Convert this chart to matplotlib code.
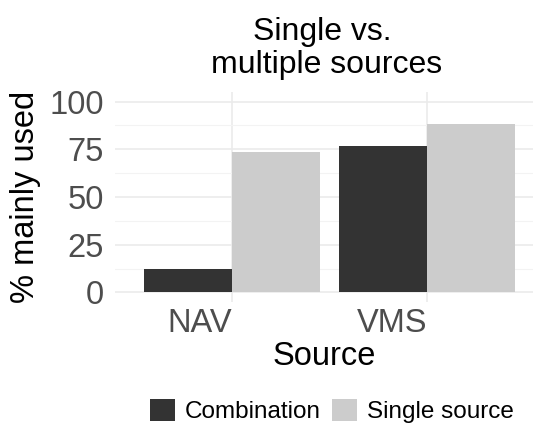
import matplotlib
matplotlib.use("Agg")
import matplotlib.pyplot as plt
import numpy as np
from matplotlib.patches import Patch

plt.rcParams['font.family'] = ['Liberation Sans', 'DejaVu Sans']

categories = ["NAV", "VMS"]
series_names = ["Combination", "Single source"]
combination = [12.3, 76.7]
single_source = [73.6, 88.1]
colors = ["#333333", "#cccccc"]
yticks = [0, 25, 50, 75, 100]

fig = plt.figure(figsize=(5.34, 4.25), dpi=100)
ax = fig.add_axes([115/534, 1-302/425, (533-115)/534, (302-92)/425])

x = np.arange(1, len(categories)+1)
w = 0.45
ax.bar(x - w/2, combination, width=w, color=colors[0], zorder=3)
ax.bar(x + w/2, single_source, width=w, color=colors[1], zorder=3)

ax.set_xlim(0.4, 2.544)
ax.set_ylim(-5, 105)
ax.set_xticks(x)
ax.set_xticklabels(categories, ha='right')
ax.set_yticks(yticks)
ax.set_yticks([12.5, 37.5, 62.5, 87.5], minor=True)
ax.grid(True, which='major', color='#ebebeb', linewidth=1.2, zorder=0)
ax.grid(True, which='minor', axis='y', color='#f3f3f3', linewidth=0.8, zorder=0)
for s in ax.spines.values():
    s.set_visible(False)
ax.tick_params(which='both', length=0, labelsize=23.5, labelcolor='#4d4d4d')
ax.tick_params(axis='y', pad=8)
ax.tick_params(axis='x', pad=4.5)

ax.set_ylabel("% mainly used", fontsize=23.5, labelpad=6)
ax.set_xlabel("Source", fontsize=23.5, labelpad=1)
ax.set_title("Single vs. \nmultiple sources", fontsize=23, pad=14, linespacing=1.1, x=0.507)

handles = [Patch(facecolor=c, edgecolor='none') for c in colors]
fig.legend(handles, series_names, loc='upper left', bbox_to_anchor=(150/534, 1-399/425),
           ncol=2, frameon=False, fontsize=17.5, handlelength=1.03, handleheight=1.0,
           columnspacing=0.45, handletextpad=0.41, borderpad=0, borderaxespad=0)

fig.savefig("out.png", dpi=100)
